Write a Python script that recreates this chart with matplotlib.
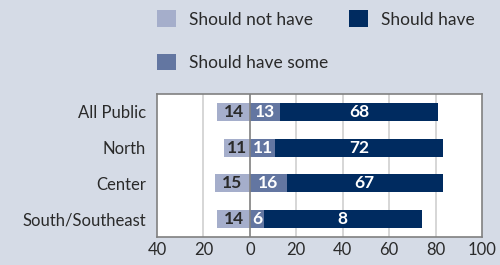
import matplotlib.pyplot as plt
import numpy as np

categories = ["All Public", "North", "Center", "South/Southeast"]
should_not = [14, 11, 15, 14]
should_some = [13, 11, 16, 6]
should_have = [68, 72, 67, 68]
should_have_labels = ["68", "72", "67", "8"]
xticks = [-40, -20, 0, 20, 40, 60, 80, 100]
xtick_labels = ["40", "20", "0", "20", "40", "60", "80", "100"]

BG = "#d5dbe6"
C_NOT = "#a5aecb"
C_SOME = "#6376a1"
C_HAVE = "#002b60"
TXT = "#2a2a2a"

plt.rcParams["font.family"] = ["Lato", "DejaVu Sans"]

fig = plt.figure(figsize=(5, 2.65), dpi=100, facecolor=BG)
ax = fig.add_axes([0.314, 0.106, 0.65, 0.539])
ax.set_facecolor("white")

y = np.arange(len(categories))
h = 0.5
not_neg = [-v for v in should_not]
b1 = ax.barh(y, not_neg, height=h, color=C_NOT, label="Should not have", zorder=3)
b2 = ax.barh(y, should_some, height=h, color=C_SOME, label="Should have some", zorder=3)
b3 = ax.barh(y, should_have, left=should_some, height=h, color=C_HAVE,
             label="Should have", zorder=3)

for i in range(len(categories)):
    ax.text(-should_not[i] / 2, y[i], str(should_not[i]), ha="center", va="center",
            color=TXT, fontsize=12.5, fontweight="bold", zorder=4)
    ax.text(should_some[i] / 2, y[i], str(should_some[i]), ha="center", va="center",
            color="white", fontsize=12.5, fontweight="bold", zorder=4)
    ax.text(should_some[i] + should_have[i] / 2, y[i], should_have_labels[i],
            ha="center", va="center", color="white", fontsize=12.5,
            fontweight="bold", zorder=4)

ax.set_xlim(-40, 100)
ax.set_ylim(len(categories) - 0.5, -0.5)
ax.set_xticks(xticks)
ax.set_xticklabels(xtick_labels)
ax.set_yticks(y)
ax.set_yticklabels(categories)
ax.tick_params(axis="both", length=0, labelsize=12, colors=TXT, pad=4)
ax.tick_params(axis="y", pad=8)

for v in [-20, 20, 40, 60, 80]:
    ax.axvline(v, color="#d0d0d0", linewidth=1.2, zorder=1)
ax.axvline(0, color="#808080", linewidth=1.2, zorder=5)

for s in ax.spines.values():
    s.set_color("#808080")
    s.set_linewidth(1.2)

fig.legend(handles=[b1, b2, b3], loc="upper left", bbox_to_anchor=(0.283, 1.02),
           ncol=2, frameon=False, fontsize=12.5, handlelength=1.1, handleheight=1.1,
           handletextpad=0.75, columnspacing=1.2, labelspacing=1.5,
           labelcolor=TXT)

fig.savefig("out.png", dpi=100, facecolor=BG)
